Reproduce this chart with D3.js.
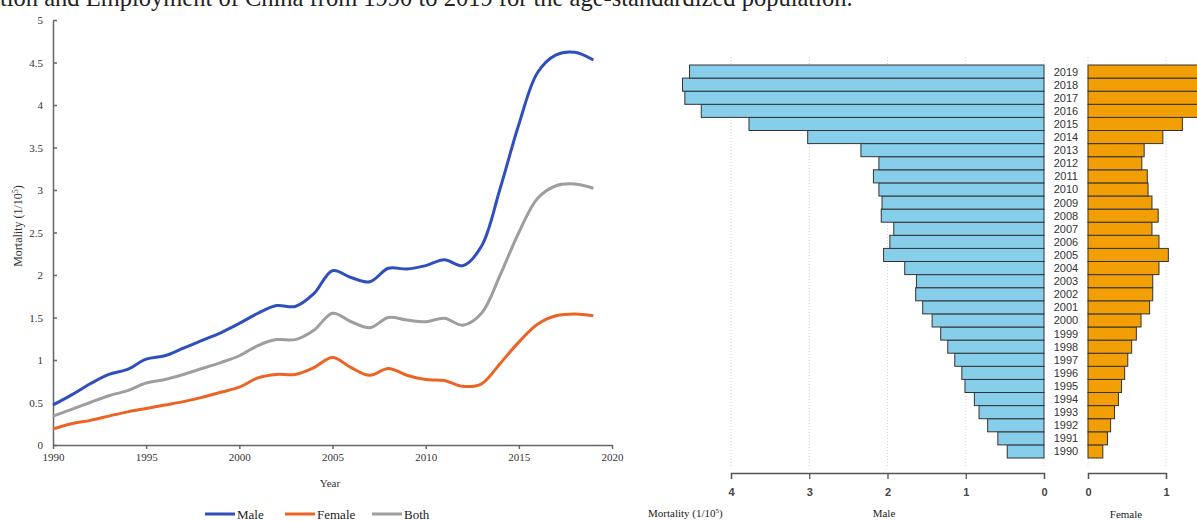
<!DOCTYPE html>
<html>
<head>
<meta charset="utf-8">
<script src="https://cdn.jsdelivr.net/npm/d3@7"></script>
<style>
  body { margin: 0; background: #fff; }
  svg { display: block; }
</style>
</head>
<body>
<svg id="chart" width="1197" height="521"></svg>
<script>
// DATA
const years = d3.range(1990, 2020);
const male = [0.47, 0.59, 0.72, 0.83, 0.89, 1.01, 1.05, 1.14, 1.23, 1.32, 1.43, 1.55, 1.64, 1.63, 1.78,
              2.05, 1.97, 1.92, 2.08, 2.07, 2.11, 2.18, 2.11, 2.34, 3.02, 3.77, 4.38, 4.59, 4.62, 4.53];
const female = [0.19, 0.25, 0.29, 0.34, 0.39, 0.43, 0.47, 0.51, 0.56, 0.62, 0.68, 0.79, 0.83, 0.83, 0.91,
                1.03, 0.91, 0.82, 0.9, 0.82, 0.77, 0.76, 0.69, 0.72, 0.96, 1.21, 1.42, 1.52, 1.54, 1.52];
const both = [0.34, 0.42, 0.5, 0.58, 0.64, 0.73, 0.77, 0.83, 0.9, 0.97, 1.05, 1.17, 1.24, 1.24, 1.35,
              1.55, 1.45, 1.38, 1.5, 1.47, 1.45, 1.49, 1.41, 1.55, 2.0, 2.5, 2.9, 3.05, 3.07, 3.02];
const yTicks = [0, 0.5, 1, 1.5, 2, 2.5, 3, 3.5, 4, 4.5, 5];
const xTicks = [1990, 1995, 2000, 2005, 2010, 2015, 2020];
const maleTicks = [0, 1, 2, 3, 4];
const femaleTicks = [0, 1];

const series = [
  {name: "Male", values: male, color: "#2f4fbd"},
  {name: "Female", values: female, color: "#ec6424"},
  {name: "Both", values: both, color: "#9e9e9e"}
];

const SERIF = "'Liberation Serif', 'DejaVu Serif', serif";
const SANS = "'Liberation Sans', Arial, sans-serif";

const svg = d3.select("#chart");

// caption fragment at top (cut off in source)
svg.append("text")
  .attr("x", 0).attr("y", 6)
  .attr("font-family", SERIF).attr("font-size", 24.5)
  .attr("fill", "#222")
  .text("tion and Employment of China from 1990 to 2019 for the age-standardized population.");

// LEFT: line chart
const x = d3.scaleLinear().domain([1990, 2020]).range([53, 612]);
const y = d3.scaleLinear().domain([0, 5]).range([445, 20]);

const left = svg.append("g");

const yAxis = left.append("g")
  .attr("transform", "translate(53,0)")
  .call(d3.axisLeft(y).tickValues(yTicks).tickSize(-4).tickSizeOuter(0).tickPadding(10).tickFormat(d => d));
const xAxis = left.append("g")
  .attr("transform", "translate(0,445)")
  .call(d3.axisBottom(x).tickValues(xTicks).tickSize(4).tickSizeOuter(0).tickPadding(4).tickFormat(d => d));

[yAxis, xAxis].forEach(a => {
  a.selectAll("path, line").attr("stroke", "#666").attr("stroke-width", 1.5);
  a.selectAll("text").attr("font-family", SERIF).attr("font-size", 11).attr("fill", "#333");
});

left.append("text")
  .attr("transform", "translate(22,226) rotate(-90)")
  .attr("text-anchor", "middle")
  .attr("font-family", SERIF).attr("font-size", 12).attr("fill", "#333")
  .html("Mortality (1/10<tspan baseline-shift='super' font-size='8'>5</tspan>)");

left.append("text")
  .attr("x", 330).attr("y", 487)
  .attr("text-anchor", "middle")
  .attr("font-family", SERIF).attr("font-size", 11).attr("fill", "#333")
  .text("Year");

const line = d3.line()
  .x((d, i) => x(years[i]))
  .y(d => y(d))
  .curve(d3.curveCatmullRom.alpha(0.5));

left.selectAll("path.series")
  .data(series)
  .join("path")
  .attr("class", "series")
  .attr("d", d => line(d.values))
  .attr("fill", "none")
  .attr("stroke", d => d.color)
  .attr("stroke-width", 3)
  .attr("stroke-linejoin", "round");

// legend
const legendX = [205, 285, 372];
const legend = left.selectAll("g.legend")
  .data(series)
  .join("g")
  .attr("class", "legend")
  .attr("transform", (d, i) => `translate(${legendX[i]},514)`);
legend.append("line")
  .attr("x1", 0).attr("x2", 30).attr("y1", 0).attr("y2", 0)
  .attr("stroke", d => d.color).attr("stroke-width", 3);
legend.append("text")
  .attr("x", 32).attr("y", 5)
  .attr("font-family", SERIF).attr("font-size", 13).attr("fill", "#222")
  .text(d => d.name);

// RIGHT: pyramid
const yBand = d3.scaleBand().domain(years.slice().reverse()).range([65, 458]).padding(0);
const xMale = d3.scaleLinear().domain([0, 4]).range([1044, 731]);
const xFemale = d3.scaleLinear().domain([0, 1]).range([1088, 1166]);

const right = svg.append("g");

// dotted gridlines
right.selectAll("line.gm")
  .data(maleTicks)
  .join("line")
  .attr("class", "gm")
  .attr("x1", d => xMale(d)).attr("x2", d => xMale(d))
  .attr("y1", 57).attr("y2", 468)
  .attr("stroke", "#d4d4d4").attr("stroke-dasharray", "1,2");
right.selectAll("line.gf")
  .data(femaleTicks)
  .join("line")
  .attr("class", "gf")
  .attr("x1", d => xFemale(d)).attr("x2", d => xFemale(d))
  .attr("y1", 57).attr("y2", 468)
  .attr("stroke", "#d4d4d4").attr("stroke-dasharray", "1,2");

right.selectAll("rect.male")
  .data(male)
  .join("rect")
  .attr("class", "male")
  .attr("x", d => xMale(d))
  .attr("y", (d, i) => yBand(years[i]))
  .attr("width", d => xMale(0) - xMale(d))
  .attr("height", yBand.bandwidth())
  .attr("fill", "#87ceeb")
  .attr("stroke", "#333").attr("stroke-width", 1);

right.selectAll("rect.female")
  .data(female)
  .join("rect")
  .attr("class", "female")
  .attr("x", xFemale(0))
  .attr("y", (d, i) => yBand(years[i]))
  .attr("width", d => xFemale(d) - xFemale(0))
  .attr("height", yBand.bandwidth())
  .attr("fill", "#f29e05")
  .attr("stroke", "#333").attr("stroke-width", 1);

right.selectAll("text.year")
  .data(years)
  .join("text")
  .attr("class", "year")
  .attr("x", 1066)
  .attr("y", d => yBand(d) + yBand.bandwidth() / 2 + 4)
  .attr("text-anchor", "middle")
  .attr("font-family", SANS).attr("font-size", 11).attr("fill", "#333")
  .text(d => d);

const mAxis = right.append("g")
  .attr("transform", "translate(0,473)")
  .call(d3.axisBottom(xMale).tickValues(maleTicks).tickSize(6).tickPadding(9).tickFormat(d => d));
const fAxis = right.append("g")
  .attr("transform", "translate(0,473)")
  .call(d3.axisBottom(xFemale).tickValues(femaleTicks).tickSize(6).tickPadding(9).tickFormat(d => d));
[mAxis, fAxis].forEach(a => {
  a.selectAll("path, line").attr("stroke", "#555").attr("stroke-width", 1.3);
  a.selectAll("text").attr("font-family", SANS).attr("font-size", 11)
    .attr("font-weight", "bold").attr("fill", "#444");
});

right.append("text")
  .attr("x", 648).attr("y", 517)
  .attr("font-family", SERIF).attr("font-size", 11).attr("fill", "#222")
  .html("Mortality (1/10<tspan baseline-shift='super' font-size='7'>5</tspan>)");
right.append("text")
  .attr("x", 884).attr("y", 517)
  .attr("text-anchor", "middle")
  .attr("font-family", SERIF).attr("font-size", 11).attr("fill", "#222")
  .text("Male");
right.append("text")
  .attr("x", 1126).attr("y", 518)
  .attr("text-anchor", "middle")
  .attr("font-family", SERIF).attr("font-size", 11).attr("fill", "#222")
  .text("Female");
</script>
</body>
</html>
